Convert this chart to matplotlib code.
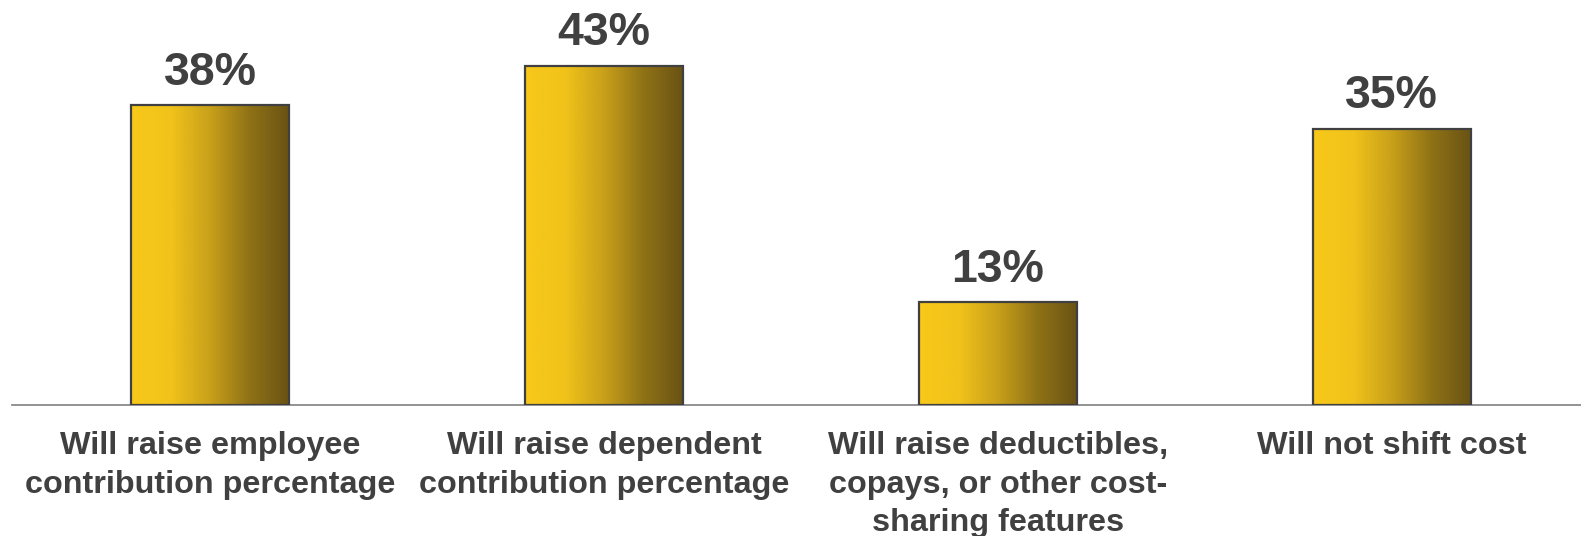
import numpy as np
import matplotlib.pyplot as plt
from matplotlib.colors import LinearSegmentedColormap

categories = [
    "Will raise employee\ncontribution percentage",
    "Will raise dependent\ncontribution percentage",
    "Will raise deductibles,\ncopays, or other cost-\nsharing features",
    "Will not shift cost",
]
values = [38, 43, 13, 35]

plt.rcParams['font.family'] = ['Liberation Sans', 'DejaVu Sans']
text_color = '#404040'

gold = LinearSegmentedColormap.from_list(
    'gold', ['#f8c81a', '#f1c31a', '#c9a01a', '#8f7216', '#6a5314'])

fig = plt.figure(figsize=(15.81, 5.36), dpi=100)
ax = fig.add_axes([12 / 1581, 1 - 405 / 536, 1 - 12 / 1581, 405 / 536])

x = np.arange(len(values))
width = 0.40
bars = ax.bar(x, values, width=width, facecolor='none',
              edgecolor=text_color, linewidth=1.6, zorder=3)

grad = np.linspace(0, 1, 256).reshape(1, -1)
for bar, v in zip(bars, values):
    x0, w = bar.get_x(), bar.get_width()
    im = ax.imshow(grad, cmap=gold, aspect='auto', extent=[x0, x0 + w, 0, v],
                   zorder=2, interpolation='bilinear')
    im.set_clip_path(bar)
    ax.text(bar.get_x() + w / 2, v + 1.3, f"{v}%", ha='center', va='bottom',
            fontsize=33.5, fontweight='bold', color=text_color)

ax.set_xlim(-0.5025, 3.48)
ax.set_ylim(0, 51.3)
ax.set_xticks(x)
ax.set_xticklabels(categories, fontsize=23.3, fontweight='bold',
                   color=text_color, linespacing=1.36)
ax.tick_params(axis='x', length=0, pad=19)
ax.set_yticks([])
for side in ['top', 'right', 'left']:
    ax.spines[side].set_visible(False)
ax.spines['bottom'].set_color('#808080')
ax.spines['bottom'].set_linewidth(1.2)

fig.savefig('out.png', dpi=100)
